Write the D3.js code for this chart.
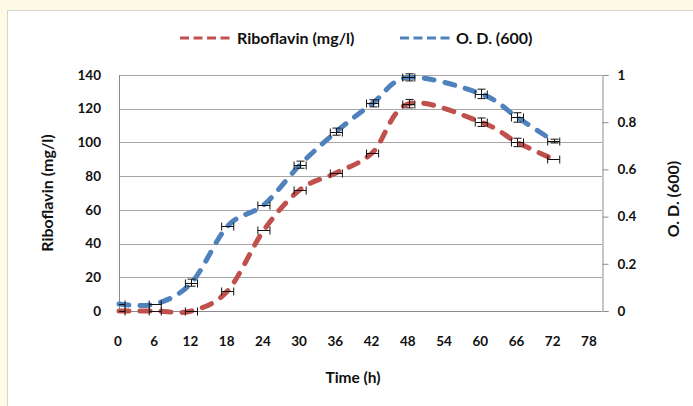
<!DOCTYPE html>
<html>
<head>
<meta charset="utf-8">
<script src="https://cdn.jsdelivr.net/npm/d3@7"></script>
<style>
  body { margin: 0; background: #fefae6; }
  svg { display: block; }
  text { font-family: Lato, "Open Sans", sans-serif; font-weight: 700; fill: #111; }
</style>
</head>
<body>
<svg id="chart" width="693" height="406"></svg>
<script>
// data
const hours = [0, 6, 12, 18, 24, 30, 36, 42, 48, 60, 66, 72];
const riboflavin = [0, 0, 0, 12, 48, 72, 82, 94, 123, 112, 100, 90];
const riboflavinErr = [0, 0, 0, 0, 0, 0, 0, 0, 2.5, 2.5, 2.5, 0];
const od = [0.03, 0.03, 0.12, 0.36, 0.45, 0.62, 0.76, 0.88, 0.99, 0.92, 0.82, 0.72];
const odErr = [0, 0, 0.015, 0, 0, 0.015, 0.015, 0.015, 0.015, 0.02, 0.02, 0.008];
const hourErr = 1;
const xTicks = d3.range(0, 79, 6);
const leftTicks = [0, 20, 40, 60, 80, 100, 120, 140];
const rightTicks = [0, 0.2, 0.4, 0.6, 0.8, 1];

const red = "#c0504d";
const blue = "#4f81bd";

const svg = d3.select("#chart");

// white chart panel
svg.append("rect")
  .attr("x", 7.5).attr("y", 10.5)
  .attr("width", 700).attr("height", 410)
  .attr("fill", "#fff")
  .attr("stroke", "#d4d4d4");

const x = d3.scaleLinear().domain([0, 80]).range([119, 602]);
const yL = d3.scaleLinear().domain([0, 140]).range([311, 75]);
const yR = d3.scaleLinear().domain([0, 1]).range([311, 75]);

// gridlines
svg.append("g")
  .selectAll("line")
    .data(leftTicks.slice(1))
  .enter().append("line")
    .attr("x1", x(0)).attr("x2", x(80))
    .attr("y1", d => Math.round(yL(d)) + 0.5)
    .attr("y2", d => Math.round(yL(d)) + 0.5)
    .attr("stroke", "#a6a6a6");

// axis lines
const axisColor = "#8c8c8c";
svg.append("line")
  .attr("x1", x(0) + 0.5).attr("x2", x(0) + 0.5)
  .attr("y1", yL(140)).attr("y2", yL(0))
  .attr("stroke", axisColor);
svg.append("line")
  .attr("x1", x(0)).attr("x2", x(80))
  .attr("y1", Math.round(yL(0)) + 0.5).attr("y2", Math.round(yL(0)) + 0.5)
  .attr("stroke", axisColor);

// right axis
const rightAxis = svg.append("g")
  .attr("transform", "translate(" + (Math.round(x(80)) + 0.5) + ",0)")
  .call(d3.axisRight(yR).tickValues(rightTicks).tickSize(6).tickPadding(9)
    .tickFormat(d => d3.format("")(+d.toFixed(1))));
rightAxis.select(".domain").attr("stroke", axisColor);
rightAxis.selectAll(".tick line").attr("stroke", axisColor);
rightAxis.selectAll("text").style("font-size", "13.5px").attr("fill", "#111");

// left tick labels
svg.append("g")
  .selectAll("text")
    .data(leftTicks)
  .enter().append("text")
    .attr("x", 101)
    .attr("y", d => yL(d))
    .attr("dy", "0.35em")
    .attr("text-anchor", "end")
    .style("font-size", "13.5px")
    .text(d => d);

// bottom tick labels
svg.append("g")
  .selectAll("text")
    .data(xTicks)
  .enter().append("text")
    .attr("x", d => x(d) - 1)
    .attr("y", 341)
    .attr("dy", "0.35em")
    .attr("text-anchor", "middle")
    .style("font-size", "13.5px")
    .text(d => d);

// axis titles
svg.append("text")
  .attr("x", 353).attr("y", 378)
  .attr("dy", "0.35em")
  .attr("text-anchor", "middle")
  .style("font-size", "15.5px")
  .text("Time (h)");

svg.append("text")
  .attr("transform", "translate(47,193) rotate(-90)")
  .attr("dy", "0.35em")
  .attr("text-anchor", "middle")
  .style("font-size", "16px")
  .text("Riboflavin (mg/l)");

svg.append("text")
  .attr("transform", "translate(673,199) rotate(-90)")
  .attr("dy", "0.35em")
  .attr("text-anchor", "middle")
  .style("font-size", "16px")
  .text("O. D. (600)");

// series
const series = [
  { name: "Riboflavin (mg/l)", color: red, values: riboflavin, err: riboflavinErr, y: yL },
  { name: "O. D. (600)", color: blue, values: od, err: odErr, y: yR }
];

const plot = svg.append("g");

series.forEach(function(s) {
  const line = d3.line()
    .x((d, i) => x(hours[i]))
    .y(d => s.y(d))
    .curve(d3.curveCardinal.tension(0));

  plot.append("path")
    .datum(s.values)
    .attr("d", line)
    .attr("fill", "none")
    .attr("stroke", s.color)
    .attr("stroke-width", 5)
    .attr("stroke-linecap", "round")
    .attr("stroke-dasharray", "10,11");
});

// error bars
series.forEach(function(s) {
  const g = svg.append("g")
    .attr("stroke", "#111")
    .attr("stroke-width", 1)
    .attr("fill", "none");

  s.values.forEach(function(v, i) {
    const cx = Math.round(x(hours[i])) + 0.5;
    const cy = Math.round(s.y(v)) + 0.5;
    const x0 = Math.max(x(0), x(hours[i] - hourErr));
    const x1 = x(hours[i] + hourErr);
    let d = "M" + x0 + "," + cy + "H" + x1 +
      (hours[i] - hourErr >= 0 ? "M" + x0 + "," + (cy - 4) + "V" + (cy + 4) : "") +
      "M" + x1 + "," + (cy - 4) + "V" + (cy + 4);
    if (s.err[i] > 0) {
      const yTop = s.y(v + s.err[i]);
      const yBot = s.y(Math.max(0, v - s.err[i]));
      d += "M" + cx + "," + yTop + "V" + yBot +
        "M" + (cx - 4) + "," + yTop + "H" + (cx + 4) +
        "M" + (cx - 4) + "," + yBot + "H" + (cx + 4);
    }
    g.append("path").attr("d", d);
  });
});

// legend
const legend = svg.append("g");
[{ s: series[0], x0: 180, x1: 232, tx: 237 }, { s: series[1], x0: 400, x1: 452, tx: 456 }].forEach(function(l) {
  legend.append("line")
    .attr("x1", l.x0).attr("x2", l.x1)
    .attr("y1", 38).attr("y2", 38)
    .attr("stroke", l.s.color)
    .attr("stroke-width", 3)
    .attr("stroke-dasharray", "9,4.5");
  legend.append("text")
    .attr("x", l.tx).attr("y", 38)
    .attr("dy", "0.35em")
    .style("font-size", "16px")
    .text(l.s.name);
});
</script>
</body>
</html>
